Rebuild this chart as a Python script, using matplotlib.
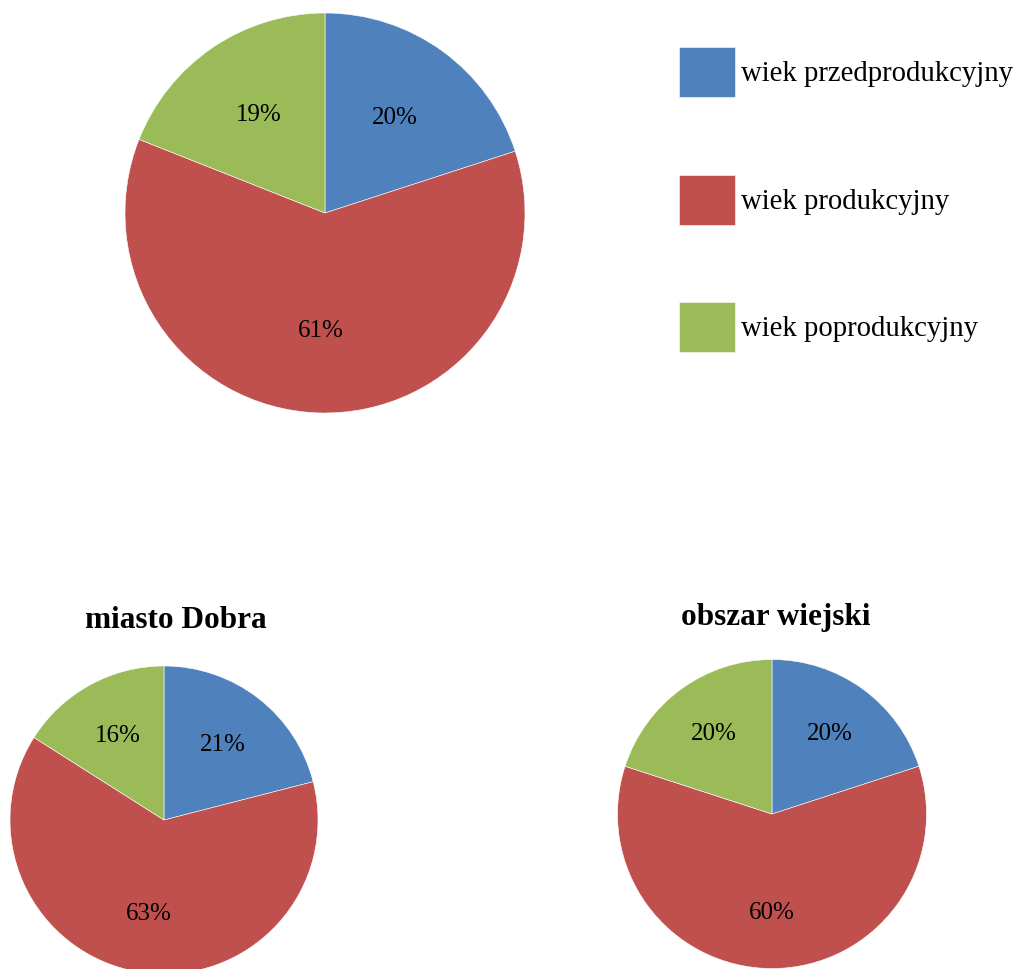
import matplotlib
matplotlib.use('Agg')
from matplotlib import pyplot as plt

# age groups and shares (%)
categories = ['wiek przedprodukcyjny', 'wiek produkcyjny', 'wiek poprodukcyjny']
total_values = [20, 61, 19]
town_values = [21, 63, 16]
rural_values = [20, 60, 20]
town_title = 'miasto Dobra'
rural_title = 'obszar wiejski'

colors = ['#4F81BD', '#C0504D', '#9BBB59']

plt.rcParams['font.family'] = ['Liberation Serif', 'DejaVu Serif']

W, H = 1015, 969
fig = plt.figure(figsize=(W / 100, H / 100), dpi=100)


def px_axes(cx, cy, r):
    # axes placed by pixel centre/radius (y measured from top)
    return fig.add_axes([(cx - r) / W, (H - cy - r) / H, 2 * r / W, 2 * r / H])


def draw_pie(ax, values, pctdist):
    wedges, _, _ = ax.pie(values, colors=colors, startangle=90, counterclock=False,
                          autopct='%.0f%%', pctdistance=pctdist, radius=1,
                          wedgeprops=dict(edgecolor='white', linewidth=0.4),
                          textprops=dict(fontsize=18, color='black'))
    ax.set_xlim(-1, 1)
    ax.set_ylim(-1, 1)
    ax.set_aspect('equal')
    ax.axis('off')
    return wedges


ax_top = px_axes(325, 213, 200)
wedges = draw_pie(ax_top, total_values, 0.59)

ax_town = px_axes(164, 820, 154)
draw_pie(ax_town, town_values, 0.62)

ax_rural = px_axes(772, 814, 154.5)
draw_pie(ax_rural, rural_values, 0.64)

fig.text(176 / W, 1 - 620 / H, town_title, ha='center', va='center',
         fontsize=22.5, fontweight='bold')
fig.text(776 / W, 1 - 617 / H, rural_title, ha='center', va='center',
         fontsize=22.5, fontweight='bold')

leg = fig.legend(wedges, categories, loc='upper left',
                 bbox_to_anchor=(679 / W, 1 - 47 / H), frameon=False,
                 fontsize=20.7, handlelength=1.95, handleheight=2.3,
                 handletextpad=0.2, labelspacing=2.7, borderpad=0,
                 borderaxespad=0)

fig.savefig('out.png', dpi=100)
